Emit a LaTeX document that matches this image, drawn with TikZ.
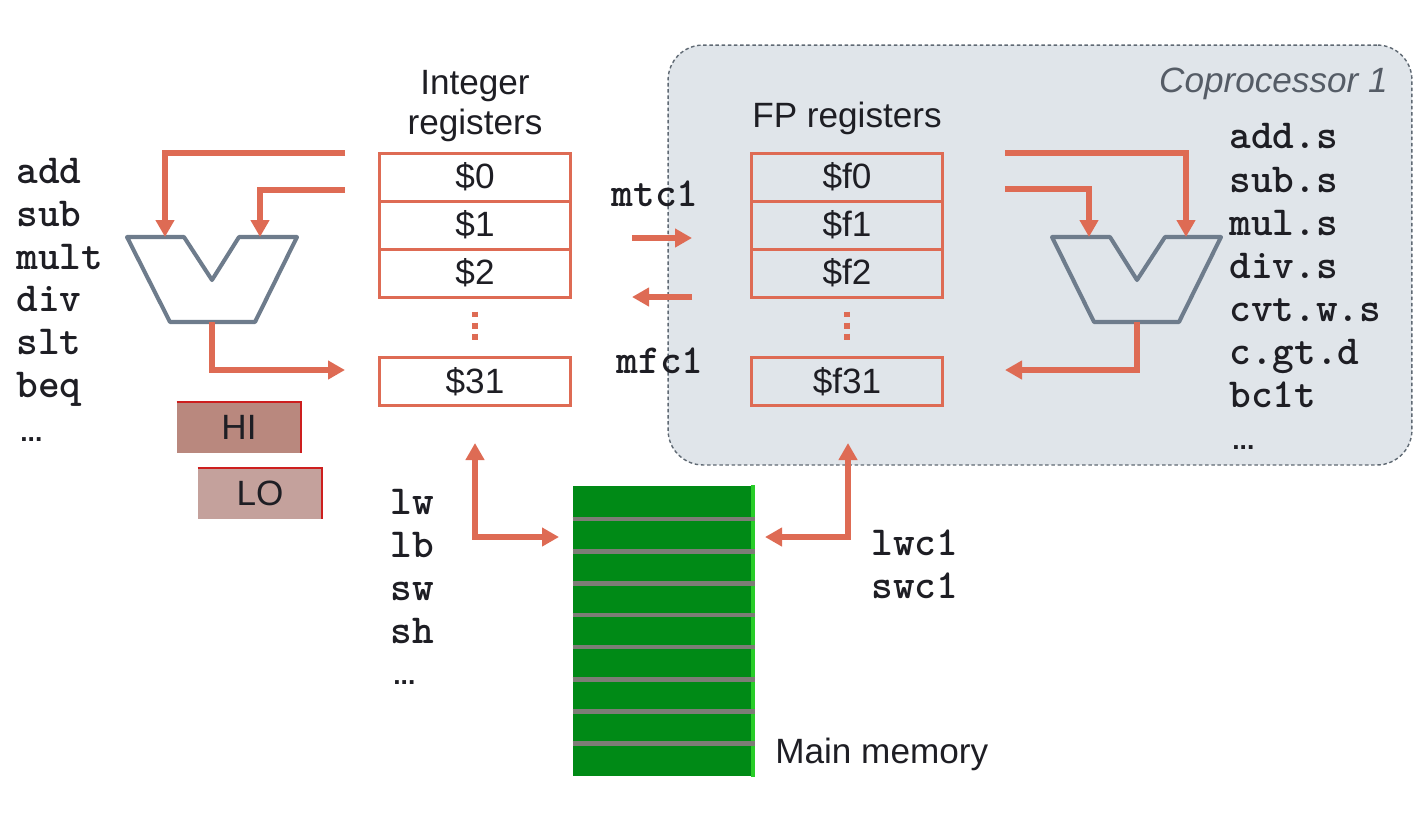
\documentclass[tikz,border=0pt]{standalone}
\usepackage{fontspec}
\setmainfont{Liberation Sans}
\usepackage{tikz}
\usetikzlibrary{arrows.meta}
\usetikzlibrary{calc}
\definecolor{regorange}{RGB}{222,107,84}
\definecolor{alugray}{RGB}{110,124,140}
\definecolor{copfill}{RGB}{224,229,234}
\definecolor{copline}{RGB}{95,105,115}
\definecolor{coptext}{RGB}{85,92,102}
\definecolor{inkdark}{RGB}{30,30,36}
\definecolor{memgreen}{RGB}{0,138,22}
\definecolor{memedge}{RGB}{40,205,40}
\definecolor{memstripe}{RGB}{125,125,118}
\definecolor{hifill}{RGB}{185,136,126}
\definecolor{lofill}{RGB}{196,161,156}
\definecolor{hiedge}{RGB}{205,30,30}
\newcommand{\fontlabel}{\fontsize{20}{22.8}\selectfont}
\newcommand{\fontmnem}{\fontsize{23.5}{26}\selectfont\ttfamily\bfseries}
\tikzset{
    common/.style={inner sep=0pt, text=inkdark},
    txt/.style={common, font=\fontlabel},
    mnem/.style={common, font=\fontmnem, anchor=base west},
    ellip/.style={common, font=\fontsize{15}{16}\selectfont\bfseries, anchor=base west},
    reg/.style={txt, draw=regorange, line width=1.7pt, minimum width=3.82cm, minimum height=0.96cm},
    hilo/.style={txt, minimum width=2.48cm, minimum height=1.02cm},
    alu/.style={draw=alugray, line width=2.3pt, line join=round},
    wire/.style={draw=regorange, line width=2.9pt, line join=miter},
    wirearrow/.style={-{Triangle[length=0.34cm,width=0.36cm]}},
    wireboth/.style={{Triangle[length=0.34cm,width=0.36cm]}-{Triangle[length=0.34cm,width=0.36cm]}},
    regdots/.style={draw=regorange, line width=2.9pt, dash pattern=on 3.4pt off 2.9pt},
    cop-box/.style={draw=copline, fill=copfill, line width=0.8pt, dash pattern=on 2pt off 1.5pt,
        rounded corners=0.7cm, minimum width=14.88cm, minimum height=8.4cm},
    mem/.style={fill=memgreen, inner sep=0pt, minimum width=3.64cm, minimum height=5.82cm}
}

\begin{document}
\begin{tikzpicture}[x=0.02cm, y=-0.02cm]
  \useasboundingbox (0,0) rectangle (1426,816);

  % coprocessor 1 background
  \node[cop-box] (cop1) at (1040,255) {};
  \node[txt, anchor=base east, text=coptext, font=\fontlabel\itshape] (cop1-title) at (1388,92) {Coprocessor 1};

  % integer registers
  \node[txt, align=center] (int-title) at (475,106) {Integer\\registers};
  \path (475,177) node[reg] (int-r0) {\$0}
    ++(0,48) node[reg] (int-r1) {\$1}
    ++(0,48) node[reg] (int-r2) {\$2}
    ++(0,108.5) node[reg] (int-r31) {\$31};
  \draw[regdots] ($(int-r2.south)+(0,13)$) -- ($(int-r2.south)+(0,42)$);

  % fp registers
  \node[txt, anchor=base] (fp-title) at (847,127) {FP registers};
  \path (847,177) node[reg] (fp-r0) {\$f0}
    ++(0,48) node[reg] (fp-r1) {\$f1}
    ++(0,48) node[reg] (fp-r2) {\$f2}
    ++(0,108.5) node[reg] (fp-r31) {\$f31};
  \draw[regdots] ($(fp-r2.south)+(0,13)$) -- ($(fp-r2.south)+(0,42)$);

  % integer alu
  \draw[alu, fill=white] (127,237) -- (184,237) -- (212,280) -- (239,237) -- (297,237) -- (255,322) -- (170,322) -- cycle;
  \coordinate (alu-int-a) at (165,237);
  \coordinate (alu-int-b) at (260,237);
  \coordinate (alu-int-out) at (212,322);

  % fp alu
  \draw[alu] (1052,237) -- (1110,237) -- (1137,280) -- (1165,237) -- (1221,237) -- (1179,322) -- (1094,322) -- cycle;
  \coordinate (alu-fp-a) at (1186,237);
  \coordinate (alu-fp-b) at (1089,237);
  \coordinate (alu-fp-out) at (1137,322);

  % hi / lo
  \node[hilo, fill=hifill] (hi-reg) at (239,427.5) {HI};
  \node[hilo, fill=lofill] (lo-reg) at (260,493.5) {LO};
  \draw[hiedge, line width=1.2pt] (hi-reg.north west) -- (hi-reg.north east) -- (hi-reg.south east);
  \draw[hiedge, line width=1.2pt] (lo-reg.north west) -- (lo-reg.north east) -- (lo-reg.south east);

  % main memory
  \node[mem] (main-mem) at (664,631) {};
  \fill[memedge] ($(main-mem.north east)+(-4,0)$) rectangle (main-mem.south east);
  \foreach \y in {519,551.5,583.5,615,647,679.5,711.5,743.5}
    \draw[memstripe, line width=2.3pt] (main-mem.west |- 0,\y) -- (main-mem.east |- 0,\y);
  \node[txt, anchor=base west] (mem-title) at (775,763) {Main memory};

  % instruction lists
  \path (16,183) node[mnem] (int-op-add) {add}
    ++(0,43) node[mnem] (int-op-sub) {sub}
    ++(0,43) node[mnem] (int-op-mult) {mult}
    ++(0,42) node[mnem] (int-op-div) {div}
    ++(0,43) node[mnem] (int-op-slt) {slt}
    ++(0,43) node[mnem] (int-op-beq) {beq}
    ++(4,44) node[ellip] (int-op-more) {...};

  \path (1229,148) node[mnem] (fp-op-add) {add.s}
    ++(0,44) node[mnem] (fp-op-sub) {sub.s}
    ++(0,43) node[mnem] (fp-op-mul) {mul.s}
    ++(0,43) node[mnem] (fp-op-div) {div.s}
    ++(0,43) node[mnem] (fp-op-cvt) {cvt.w.s}
    ++(0,43) node[mnem] (fp-op-cgt) {c.gt.d}
    ++(0,43) node[mnem] (fp-op-bc1t) {bc1t}
    ++(3,42) node[ellip] (fp-op-more) {...};

  \path (390,514) node[mnem] (mem-op-lw) {lw}
    ++(0,43) node[mnem] (mem-op-lb) {lb}
    ++(0,43) node[mnem] (mem-op-sw) {sw}
    ++(0,43) node[mnem] (mem-op-sh) {sh}
    ++(3,41) node[ellip] (mem-op-more) {...};

  \path (871,555) node[mnem] (mem-op-lwc1) {lwc1}
    ++(0,43) node[mnem] (mem-op-swc1) {swc1};

  \node[mnem, anchor=base] (op-mtc1) at (655,206) {mtc1};
  \node[mnem, anchor=base] (op-mfc1) at (660,373) {mfc1};

  % connector ends
  \coordinate (int-src-a) at (345,153);
  \coordinate (int-src-b) at (345,190);
  \coordinate (int-dst) at (345,370);
  \coordinate (fp-src-a) at (1005,153);
  \coordinate (fp-src-b) at (1005,189);
  \coordinate (fp-dst) at (1005,370);
  \coordinate (mtc1-from) at (632,238);
  \coordinate (mtc1-to) at (692,238);
  \coordinate (mfc1-from) at (692,297);
  \coordinate (mfc1-to) at (632,297);
  \coordinate (int-mem-top) at (475,443);
  \coordinate (fp-mem-top) at (848,443);
  \coordinate (mem-port-l) at (559,537);
  \coordinate (mem-port-r) at (765,537);

  % connectors
  \draw[wire, wirearrow] (int-src-a) -| (alu-int-a);
  \draw[wire, wirearrow] (int-src-b) -| (alu-int-b);
  \draw[wire, wirearrow] (alu-int-out) |- (int-dst);
  \draw[wire, wirearrow] (fp-src-a) -| (alu-fp-a);
  \draw[wire, wirearrow] (fp-src-b) -| (alu-fp-b);
  \draw[wire, wirearrow] (alu-fp-out) |- (fp-dst);
  \draw[wire, wirearrow] (mtc1-from) -- (mtc1-to);
  \draw[wire, wirearrow] (mfc1-from) -- (mfc1-to);
  \draw[wire, wireboth] (int-mem-top) |- (mem-port-l);
  \draw[wire, wireboth] (fp-mem-top) |- (mem-port-r);
\end{tikzpicture}
\end{document}
